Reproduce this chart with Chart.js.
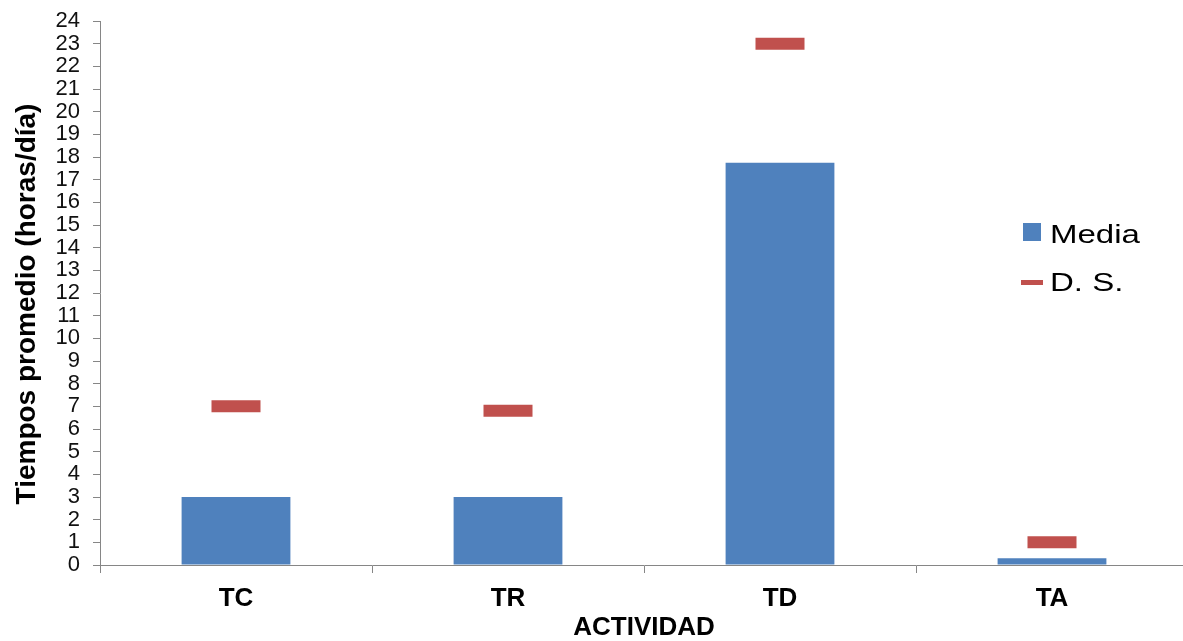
<!DOCTYPE html>
<html>
<head>
<meta charset="utf-8">
<script src="https://cdn.jsdelivr.net/npm/chart.js@4.4.1/dist/chart.umd.min.js"></script>
<style>
  html, body { margin: 0; padding: 0; background: #fff; overflow: hidden; }
  #wrap { width: 1183px; height: 641px; overflow: hidden; }
</style>
</head>
<body>
<div id="wrap"><canvas id="c" width="1188" height="641"></canvas></div>
<script>
// Average daily time per activity (hours/day) and its standard deviation
const categories = ['TC', 'TR', 'TD', 'TA'];
const media = [3.0, 3.0, 17.75, 0.3];
const desviacion = [7.0, 6.8, 23.0, 1.0];
const yTicks = [0, 24, 1]; // min, max, step

const BLUE = '#4F81BD';
const RED = '#C0504D';
const AXIS = '#868686';
const FONT = "'Liberation Sans', Arial, sans-serif";

// Legend drawn over the plot on the right side, plus the rotated y title
const decorations = {
  id: 'decorations',
  afterDraw(chart) {
    const ctx = chart.ctx;
    ctx.save();
    ctx.fillStyle = BLUE;
    ctx.fillRect(1023, 223, 18, 18);
    ctx.fillStyle = RED;
    ctx.fillRect(1021, 280, 22, 5);
    ctx.fillStyle = '#000';
    ctx.font = '26px ' + FONT;
    ctx.textBaseline = 'alphabetic';
    ctx.textAlign = 'left';
    [['Media', 243], ['D. S.', 291]].forEach(([txt, base]) => {
      ctx.save();
      ctx.translate(1050, base);
      ctx.scale(1.27, 1);
      ctx.fillText(txt, 0, 0);
      ctx.restore();
    });

    // y-axis title
    ctx.save();
    ctx.translate(35, 304);
    ctx.rotate(-Math.PI / 2);
    ctx.font = 'bold 28px ' + FONT;
    ctx.textAlign = 'center';
    ctx.textBaseline = 'alphabetic';
    ctx.fillText('Tiempos promedio (horas/día)', 0, 0);
    ctx.restore();
    ctx.restore();
  }
};

new Chart(document.getElementById('c'), {
  data: {
    labels: categories,
    datasets: [
      {
        type: 'bar',
        label: 'Media',
        data: media,
        backgroundColor: BLUE,
        borderWidth: 0,
        categoryPercentage: 1,
        barPercentage: 0.4,
        order: 2
      },
      {
        type: 'line',
        label: 'D. S.',
        data: desviacion,
        showLine: false,
        clip: false,
        pointStyle: 'line',
        pointRadius: 24.5,
        pointHoverRadius: 24.5,
        pointBorderWidth: 12,
        pointHoverBorderWidth: 12,
        borderColor: RED,
        backgroundColor: RED,
        order: 1
      }
    ]
  },
  options: {
    responsive: false,
    animation: false,
    events: [],
    layout: { autoPadding: false, padding: { top: 21, left: 0, right: 0, bottom: 0 } },
    plugins: {
      legend: { display: false },
      tooltip: { enabled: false }
    },
    scales: {
      x: {
        offset: true,
        grid: {
          display: true,
          offset: true,
          drawOnChartArea: false,
          drawTicks: true,
          tickLength: 8,
          color: AXIS
        },
        border: { display: true, color: AXIS, width: 1 },
        ticks: {
          color: '#000',
          padding: 10,
          font: { family: FONT, size: 26, weight: 'bold' }
        },
        title: {
          display: true,
          text: 'ACTIVIDAD',
          color: '#000',
          font: { family: FONT, size: 26, weight: 'bold', lineHeight: 1.0 },
          padding: { top: 0, bottom: 0 }
        },
        afterFit(scale) { scale.height = 76; }
      },
      y: {
        min: yTicks[0],
        max: yTicks[1],
        grid: {
          display: true,
          drawOnChartArea: false,
          drawTicks: true,
          tickLength: 7,
          color: AXIS
        },
        border: { display: true, color: AXIS, width: 1 },
        ticks: {
          stepSize: yTicks[2],
          autoSkip: false,
          color: '#111',
          padding: 13,
          font: { family: FONT, size: 22 }
        },
        afterFit(scale) {
          scale.width = 100;
          scale.paddingTop = 0;
          scale.paddingBottom = 0;
        }
      }
    }
  },
  plugins: [decorations]
});
</script>
</body>
</html>
